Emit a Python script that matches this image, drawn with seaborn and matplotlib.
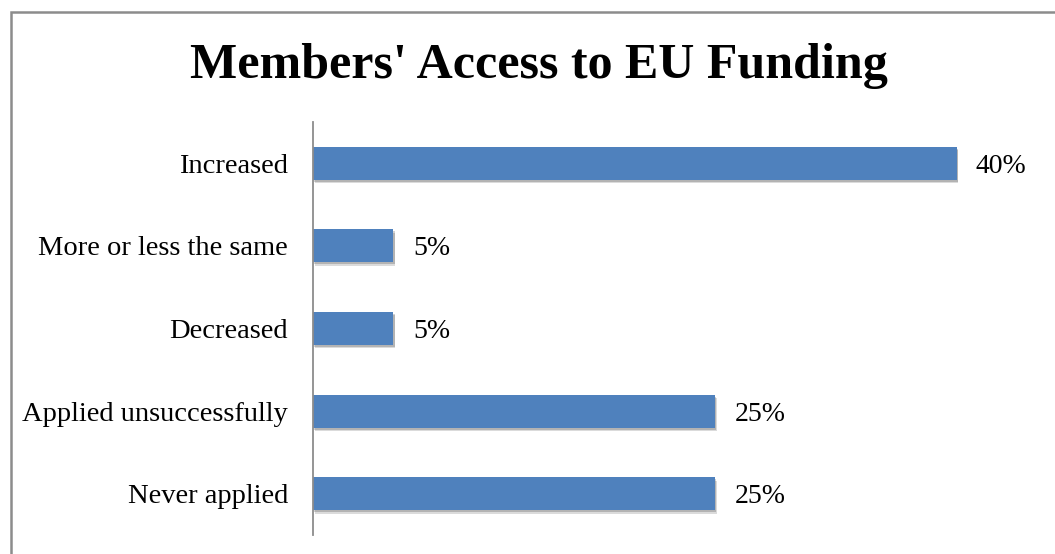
import matplotlib
matplotlib.use("Agg")
import matplotlib.pyplot as plt
import matplotlib.patheffects as pe
from matplotlib.patches import Rectangle
import seaborn as sns
import pandas as pd

categories = ["Increased", "More or less the same", "Decreased",
              "Applied unsuccessfully", "Never applied"]
shares = [40, 5, 5, 25, 25]
value_labels = ["40%", "5%", "5%", "25%", "25%"]
title = "Members' Access to EU Funding"

sns.set_theme(style="white")
plt.rcParams["font.family"] = ["Liberation Serif", "DejaVu Serif"]

df = pd.DataFrame({"category": categories, "share": shares})

fig = plt.figure(figsize=(10.55, 5.54), dpi=100)
fig.patch.set_facecolor("white")
# outer chart frame
fig.patches.append(Rectangle((11 / 1055, -0.05), 1.2, 1 - 12 / 554 + 0.05,
                             transform=fig.transFigure, fill=False,
                             edgecolor="#8c8c8c", linewidth=1.8))

ax = fig.add_axes([313 / 1055, 1 - 535 / 554, (1037 - 313) / 1055, (535 - 122) / 554])
sns.barplot(data=df, x="share", y="category", orient="h", color="#4F81BD",
            saturation=1, width=0.4, ax=ax)

# soft drop shadow under each bar
for bar in ax.patches:
    bar.set_edgecolor("none")
    bar.set_path_effects([
        pe.SimplePatchShadow(offset=(1.2, -2.4), shadow_rgbFace="#000000", alpha=0.14),
        pe.SimplePatchShadow(offset=(0.8, -1.4), shadow_rgbFace="#000000", alpha=0.18),
        pe.Normal()])

for i, (v, lab) in enumerate(zip(shares, value_labels)):
    ax.annotate(lab, xy=(v, i), xytext=(14, 0), textcoords="offset points",
                va="center_baseline", ha="left", fontsize=20, color="black")

ax.set_xlim(0, 45)
ax.set_ylim(4.5, -0.5)
ax.set_xlabel("")
ax.set_ylabel("")
ax.set_xticks([])
ax.tick_params(axis="y", length=0, pad=18, labelsize=20.5, labelcolor="black")
for t in ax.get_yticklabels():
    t.set_va("center_baseline")
for s in ["top", "right", "bottom"]:
    ax.spines[s].set_visible(False)
ax.spines["left"].set_color("#8c8c8c")
ax.spines["left"].set_linewidth(1.3)

fig.text(539 / 1055, 1 - 66 / 554, title, ha="center", va="center",
         fontsize=36, fontweight="bold", color="black")

fig.savefig("out.png", dpi=100, facecolor="white")
